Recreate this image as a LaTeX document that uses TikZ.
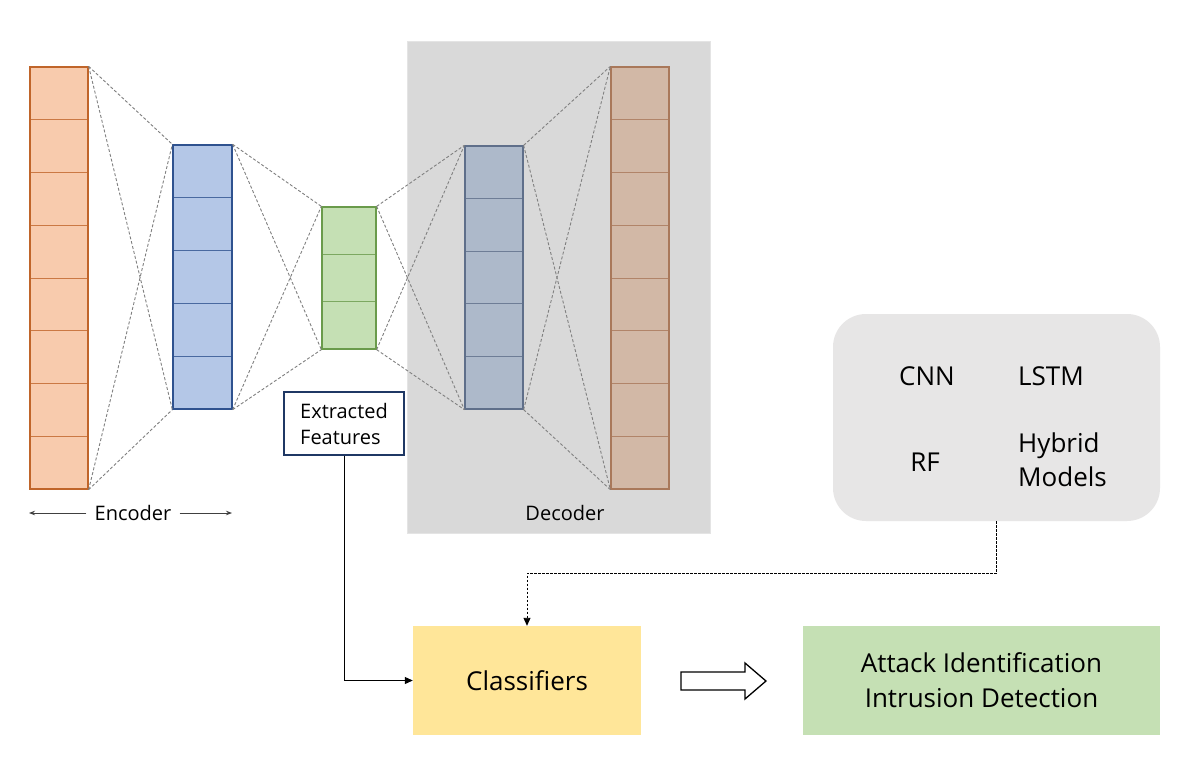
\documentclass[tikz,border=0pt]{standalone}
\usepackage{fontspec}
\setmainfont{Open Sans}
\usetikzlibrary{calc,arrows.meta}
\definecolor{orangeF}{HTML}{F8CBAD}
\definecolor{orangeD}{HTML}{C0652A}
\definecolor{blueF}{HTML}{B4C7E7}
\definecolor{blueD}{HTML}{2F528F}
\definecolor{greenF}{HTML}{C5E0B4}
\definecolor{greenD}{HTML}{6A9B4B}
\definecolor{decF}{HTML}{ADB9CA}
\definecolor{decD}{HTML}{5F6F8A}
\definecolor{brownF}{HTML}{D2B8A6}
\definecolor{brownD}{HTML}{A9785A}
\definecolor{panelF}{HTML}{D9D9D9}
\definecolor{panelD}{HTML}{E4E4E4}
\definecolor{modelsF}{HTML}{E7E6E6}
\definecolor{clsF}{HTML}{FFE699}
\definecolor{resF}{HTML}{C5E0B4}
\definecolor{efD}{HTML}{1F3864}
\definecolor{dashC}{HTML}{808080}
\begin{document}
\begin{tikzpicture}[x=1pt,y=-1pt,
  colbox/.style={rectangle, line width=1.3pt, inner sep=0pt},
  conn/.style={draw=dashC, line width=0.9pt, dash pattern=on 3pt off 2pt},
  txt/.style={inner sep=0pt, font=\fontsize{26}{34}\selectfont},
  smalltxt/.style={inner sep=0pt, font=\fontsize{20}{26}\selectfont},
  flatbox/.style={rectangle, inner sep=0pt},
]
\useasboundingbox[fill=white] (0,0) rectangle (1184,763);

% decoder panel
\node[flatbox, fill=panelF, draw=panelD, line width=1pt, minimum width=303, minimum height=492] (panel) at (558.5,287) {};
\node[smalltxt] (dectxt) at (565,513) {Decoder};

% columns
\node[colbox, fill=orangeF, draw=orangeD, minimum width=58, minimum height=422] (in) at (59,278) {};
\node[colbox, fill=blueF, draw=blueD, minimum width=59, minimum height=264] (h1) at (202.5,277) {};
\node[colbox, fill=greenF, draw=greenD, minimum width=54, minimum height=142] (z) at (349,278) {};
\node[colbox, fill=decF, draw=decD, minimum width=58, minimum height=263] (h2) at (494,277.5) {};
\node[colbox, fill=brownF, draw=brownD, minimum width=58, minimum height=422] (out) at (640,278) {};

% cell dividers
\foreach \n/\k/\c in {in/8/orangeD, h1/5/blueD, z/3/greenD, h2/5/decD, out/8/brownD}{
  \pgfmathtruncatemacro{\km}{\k-1}
  \foreach \i in {1,...,\km}{
    \draw[\c, line width=1pt, opacity=0.8] ($(\n.north west)!\i/\k!(\n.south west)$) -- ($(\n.north east)!\i/\k!(\n.south east)$);
  }
}

% dashed connections
\foreach \a/\b in {in/h1, h1/z, z/h2, h2/out}{
  \draw[conn] (\a.north east) -- (\b.north west);
  \draw[conn] (\a.north east) -- (\b.south west);
  \draw[conn] (\a.south east) -- (\b.north west);
  \draw[conn] (\a.south east) -- (\b.south west);
}

% encoder label
\node[smalltxt, inner xsep=8pt] (enctxt) at (133,513) {Encoder};
\coordinate (encL) at (29,513);
\coordinate (encR) at (232,513);
\draw[-{Stealth[length=6pt,width=4.5pt]}, line width=0.8pt, draw=black!75] (enctxt.west) -- (encL);
\draw[-{Stealth[length=6pt,width=4.5pt]}, line width=0.8pt, draw=black!75] (enctxt.east) -- (encR);

% extracted features
\node[flatbox, draw=efD, line width=1.6pt, fill=white, minimum width=120, minimum height=63, align=left, font=\fontsize{20}{26}\selectfont] (ef) at (344,423.5) {Extracted\\Features};

% models box
\node[flatbox, fill=modelsF, rounded corners=33pt, minimum width=327, minimum height=207] (models) at (996.5,417.5) {};
\node[txt] (cnn) at (927,376) {CNN};
\node[txt, anchor=west] (lstm) at (1018,376) {LSTM};
\node[txt] (rf) at (925,462) {RF};
\node[txt, anchor=west, align=left] (hyb) at (1018,460) {Hybrid\\Models};

% classifiers and result
\node[flatbox, fill=clsF, minimum width=228, minimum height=109, font=\fontsize{26}{34}\selectfont] (cls) at (527,680.5) {Classifiers};
\node[flatbox, fill=resF, minimum width=357, minimum height=109, align=center, font=\fontsize{26}{35}\selectfont] (res) at (981.5,680.5) {Attack Identification\\Intrusion Detection};

% hollow arrow
\draw[line width=1.3pt, fill=white, line join=miter] (681,672) -- (745,672) -- (745,663) -- (766,681) -- (745,699) -- (745,690) -- (681,690) -- cycle;

% connectors
\draw[-{Triangle[length=8pt,width=7pt]}, line width=1pt] (ef.south) |- (cls.west);
\coordinate (bend) at (996.5,573);
\draw[line width=0.9pt, dash pattern=on 2.5pt off 1.5pt] (models.south) -- (bend);
\draw[-{Triangle[length=8pt,width=7pt]}, line width=0.9pt, dash pattern=on 2.5pt off 1.5pt] (bend) -| (cls.north);
\end{tikzpicture}
\end{document}
